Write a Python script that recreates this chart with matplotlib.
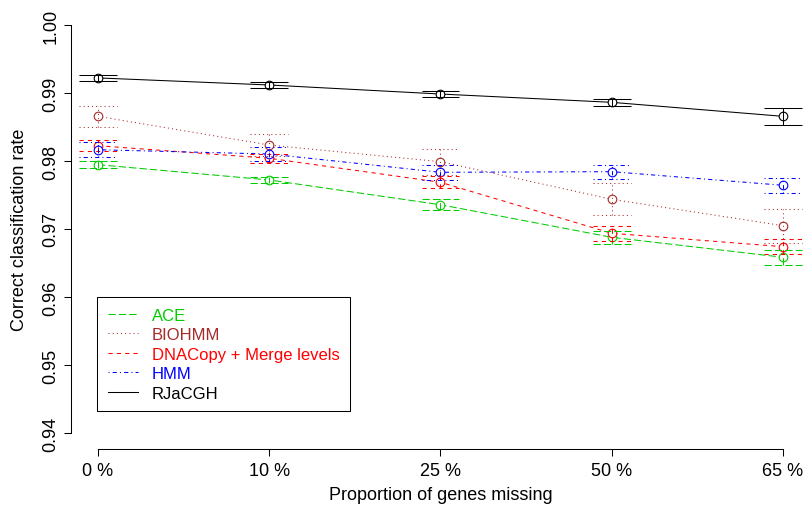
import matplotlib

matplotlib.use("Agg")

import matplotlib.pyplot as plt
import numpy as np

# proportion of genes missing (x categories)
missing = ["0 %", "10 %", "25 %", "50 %", "65 %"]

# mean correct classification rate per method
ace = [0.97946, 0.97721, 0.97357, 0.96878, 0.96584]
biohmm = [0.98657, 0.98235, 0.97990, 0.97437, 0.97049]
dnacopy = [0.98225, 0.98040, 0.97687, 0.96937, 0.96740]
hmm = [0.98166, 0.98103, 0.97834, 0.97843, 0.97643]
rjacgh = [0.99222, 0.99118, 0.98985, 0.98863, 0.98657]

# half-width of the error bars
ace_err = [0.00056, 0.00051, 0.00078, 0.00093, 0.00107]
biohmm_err = [0.00157, 0.00166, 0.00191, 0.00235, 0.00250]
dnacopy_err = [0.00078, 0.00070, 0.00091, 0.00107, 0.00110]
hmm_err = [0.00110, 0.00103, 0.00107, 0.00103, 0.00107]
rjacgh_err = [0.00044, 0.00044, 0.00051, 0.00054, 0.00128]

yticks = [0.94, 0.95, 0.96, 0.97, 0.98, 0.99, 1.00]

# name, values, errors, colour, dash pattern (R lty style)
series = [
    ("ACE", ace, ace_err, "#00CD00", (7, 3)),
    ("BIOHMM", biohmm, biohmm_err, "#A52A2A", (1, 3)),
    ("DNACopy + Merge levels", dnacopy, dnacopy_err, "#FF0000", (4, 4)),
    ("HMM", hmm, hmm_err, "#0000FF", (1, 3, 4, 3)),
    ("RJaCGH", rjacgh, rjacgh_err, "#000000", None),
]

plt.rcParams["font.family"] = ["Liberation Sans", "DejaVu Sans"]

W, H = 807, 510
fig = plt.figure(figsize=(W / 100, H / 100), dpi=100)
ax = fig.add_axes([70.6 / W, 59.7 / H, 739.8 / W, 440.6 / H])

x = np.arange(1, len(missing) + 1)
cap = 0.11
lw = 0.75

for name, vals, err, color, dash in series:
    vals = np.asarray(vals)
    err = np.asarray(err)
    ls = "-" if dash is None else (0, dash)
    ax.plot(x, vals, color=color, lw=lw, linestyle=ls, zorder=1, label=name)
    ax.plot(x, vals, linestyle="none", marker="o", ms=6.2, mew=0.8,
            mfc="white", mec=color, zorder=2)
    ax.vlines(x, vals - err, vals + err, colors=color, lw=lw, linestyles=ls, zorder=3)
    ax.hlines(vals - err, x - cap, x + cap, colors=color, lw=lw, linestyles=ls, zorder=3)
    ax.hlines(vals + err, x - cap, x + cap, colors=color, lw=lw, linestyles=ls, zorder=3)

ax.set_xlim(0.84, 5.16)
ax.set_ylim(0.9376, 1.0024)
ax.set_xticks(x)
ax.set_xticklabels(missing)
ax.set_yticks(yticks)
ax.set_yticklabels([f"{t:.2f}" for t in yticks], rotation=90, va="center")

for side in ("top", "right"):
    ax.spines[side].set_visible(False)
ax.spines["left"].set_bounds(yticks[0], yticks[-1])
ax.spines["bottom"].set_bounds(x[0], x[-1])
for side in ("left", "bottom"):
    ax.spines[side].set_linewidth(0.75)
ax.tick_params(axis="both", direction="out", length=5, width=0.75, labelsize=13)
ax.tick_params(axis="x", pad=4)
ax.tick_params(axis="y", pad=3)

ax.set_xlabel("Proportion of genes missing", fontsize=13)
ax.set_ylabel("Correct classification rate", fontsize=13)
ax.xaxis.set_label_coords(0.5, -0.083)
ax.yaxis.set_label_coords(-0.057, 0.5)

leg = ax.legend(
    loc="upper left",
    bbox_to_anchor=(97.3 / W, 1 - 298.3 / H),
    bbox_transform=fig.transFigure,
    borderaxespad=0,
    fontsize=12,
    handlelength=1.8,
    handletextpad=0.85,
    borderpad=0.62,
    labelspacing=0.27,
    fancybox=False,
    framealpha=1,
    edgecolor="black",
    labelcolor="linecolor",
)
leg.get_frame().set_linewidth(0.75)

fig.savefig("out.png", dpi=100)
